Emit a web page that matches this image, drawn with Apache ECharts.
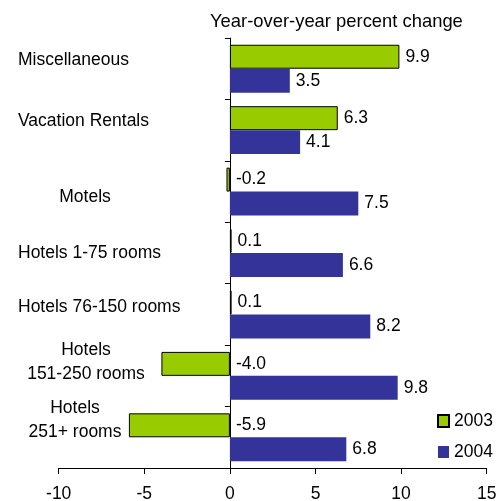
<!DOCTYPE html>
<html><head><meta charset="utf-8">
<script src="https://cdn.jsdelivr.net/npm/echarts@6/dist/echarts.min.js"></script>
<style>html,body{margin:0;padding:0;background:#fff}#c{width:500px;height:501px}</style>
</head><body><div id="c"></div>
<script>
const categories = ['Miscellaneous', 'Vacation Rentals', 'Motels', 'Hotels 1-75 rooms', 'Hotels 76-150 rooms', 'Hotels\n151-250 rooms', 'Hotels\n251+ rooms'];
const values2003 = [9.9, 6.3, -0.2, 0.1, 0.1, -4.0, -5.9];
const values2004 = [3.5, 4.1, 7.5, 6.6, 8.2, 9.8, 6.8];
const seriesNames = ['2003', '2004'];
const xMin = -10, xMax = 15, xInterval = 5;
const titleText = 'Year-over-year percent change';

// label layout tweaks (styles only)
const labelShift = [9, 9, -5.5, 0, 7, 14, 17.5];      // px upward
const labelCenter = [0, 0, 85, 0, 0, 86, 75];          // 0 = left aligned
const GRID_LEFT = 58.7, LABEL_LEFT = 18;

const FONT = 'Liberation Sans, Arial, sans-serif';
const FS = 17.5;

const rich = {};
labelShift.forEach((s, i) => {
  const pt = s < 0 ? -2 * s : 0, pb = s > 0 ? 2 * s : 0;
  const st = { fontSize: FS, fontFamily: FONT, color: '#000', lineHeight: 24, padding: [pt, 0, pb, 0] };
  if (labelCenter[i]) { st.width = 2 * (labelCenter[i] - LABEL_LEFT); st.align = 'center'; }
  else { st.align = 'left'; }
  rich['s' + i] = st;
});

const chart = echarts.init(document.getElementById('c'));
const labelCfg = {
  show: true, position: 'right', distance: 6,
  fontSize: FS, fontFamily: FONT, color: '#000',
  formatter: p => Number(p.value).toFixed(1)
};
chart.setOption({
  animation: false,
  backgroundColor: '#fff',
  textStyle: { fontFamily: FONT },
  title: {
    text: titleText, left: 210, top: 13, padding: 0,
    textStyle: { fontSize: 18.4, fontWeight: 'normal', color: '#000', fontFamily: FONT }
  },
  legend: {
    data: seriesNames, orient: 'vertical', left: 437, top: 412, padding: 0,
    itemWidth: 11, itemHeight: 12, itemGap: 13, icon: 'rect',
    textStyle: { fontSize: FS, color: '#000', fontFamily: FONT }
  },
  grid: { left: GRID_LEFT, right: 13.3, top: 38, bottom: 33, outerBoundsMode: 'none' },
  xAxis: {
    type: 'value', min: xMin, max: xMax, interval: xInterval,
    splitLine: { show: false },
    axisLine: { show: true, onZero: false, lineStyle: { color: '#000', width: 1 } },
    axisTick: { show: true, length: 6, lineStyle: { color: '#000' } },
    axisLabel: { fontSize: FS, color: '#000', margin: 17, fontFamily: FONT }
  },
  yAxis: {
    type: 'category', data: categories, inverse: true,
    axisLine: { show: true, onZero: true, lineStyle: { color: '#000', width: 1 } },
    axisTick: { show: true, length: 5, lineStyle: { color: '#000' } },
    axisLabel: {
      interval: 0, align: 'left', margin: GRID_LEFT - LABEL_LEFT, hideOverlap: false,
      formatter: (v, i) => v.split('\n').map(l => '{s' + i + '|' + l + '}').join('\n'),
      rich: rich
    }
  },
  series: [
    {
      name: seriesNames[0], type: 'bar', data: values2003,
      barCategoryGap: '22%', barGap: '0%',
      itemStyle: { color: '#99CC00', borderColor: '#000', borderWidth: 1 },
      label: labelCfg
    },
    {
      name: seriesNames[1], type: 'bar', data: values2004,
      barCategoryGap: '22%', barGap: '0%',
      itemStyle: { color: '#333399' },
      label: labelCfg
    }
  ]
});
</script></body></html>
